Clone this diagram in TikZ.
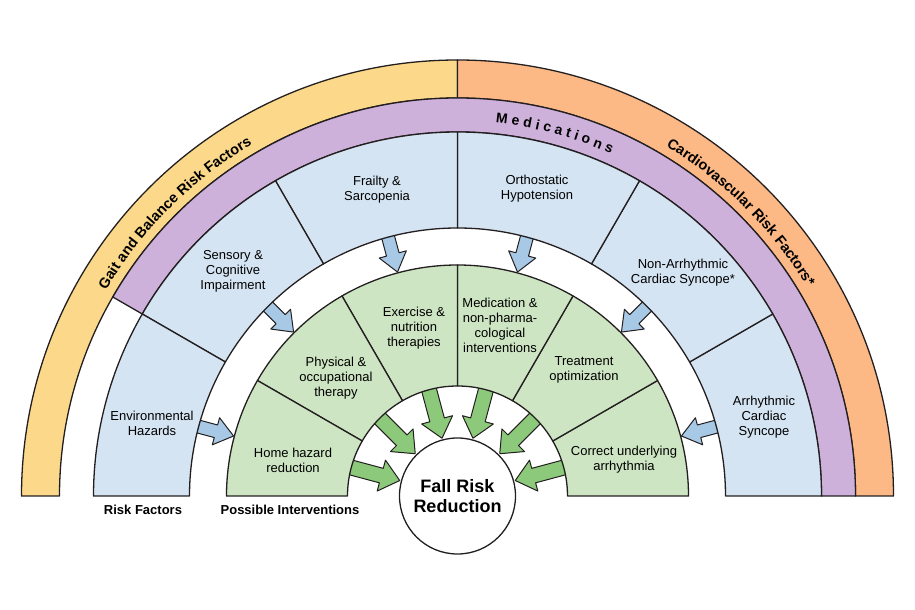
\documentclass[tikz,border=0pt]{standalone}
\usepackage{fontspec}
\setmainfont{Liberation Sans}
\usetikzlibrary{shapes.arrows, decorations.text}

\definecolor{gaityellow}{HTML}{FBD88A}
\definecolor{cardioorange}{HTML}{FCB985}
\definecolor{medpurple}{HTML}{CEB1DB}
\definecolor{riskblue}{HTML}{D5E4F2}
\definecolor{intgreen}{HTML}{CDE5C2}
\definecolor{arrowblue}{HTML}{A8C9E6}
\definecolor{arrowgreen}{HTML}{8CC97B}
\definecolor{inkline}{HTML}{231F20}

\newcommand{\celltext}{\fontsize{13}{15}\selectfont}
\newcommand{\ringtext}{\fontsize{13}{15}\selectfont\bfseries}
\newcommand{\bandtext}{\fontsize{14.5}{16}\selectfont\bfseries}
\newcommand{\medtext}{\fontsize{14}{16}\selectfont\bfseries}
% ring sector: style, start angle, end angle, inner radius, outer radius
\newcommand{\ringsector}[5]{%
	\draw[#1] (#2:#4) -- (#2:#5) arc[start angle=#2, end angle=#3, radius=#5]
	-- (#3:#4) arc[start angle=#3, end angle=#2, radius=#4] -- cycle;}

\begin{document}
\begin{tikzpicture}[x=1pt, y=1pt, line cap=round, line join=round, line width=1.3pt, font=\celltext,
	bluearrow/.style={shape=single arrow, draw=inkline, fill=arrowblue, line width=1pt,
		inner xsep=0pt, inner ysep=6pt, minimum height=44pt,
		single arrow head extend=7.5pt, single arrow tip angle=75, anchor=tip},
	greenarrow/.style={shape=single arrow, draw=inkline, fill=arrowgreen, line width=1pt,
		inner xsep=0pt, inner ysep=7pt, minimum height=57pt,
		single arrow head extend=8.5pt, single arrow tip angle=80, anchor=tip}]
	
	\useasboundingbox (-457.5,-114) rectangle (457.5,496);
	
	%========================
	% block arrows (tails and tips go under the cells)
	%========================
	\foreach \a [count=\i] in {15,45,...,165}
	\node[bluearrow, rotate=\a+180] (rf\i) at (\a:231) {};
	\foreach \a [count=\i] in {15,45,...,165}
	\node[greenarrow, rotate=\a+180] (pi\i) at (\a:59) {};
	
	%========================
	% outer rings
	%========================
	\ringsector{fill=gaityellow, draw=inkline}{90}{180}{398}{436}
	\ringsector{fill=cardioorange, draw=inkline}{0}{90}{398}{436}
	\ringsector{fill=medpurple, draw=inkline}{0}{150}{364}{398}
	
	% risk factor cells
	\foreach \a in {0,30,...,150}{
		\ringsector{fill=riskblue, draw=inkline}{\a}{\a+30}{268}{364}
	}
	
	% intervention cells
	\foreach \a in {0,30,...,150}{
		\ringsector{fill=intgreen, draw=inkline}{\a}{\a+30}{110}{231}
	}
	
	%========================
	% ring titles
	%========================
	\path[decorate, decoration={text along path, text align=center,
		text={|\bandtext|Gait and Balance Risk Factors}}]
	(180:407) arc[start angle=180, end angle=90, radius=407];
	\path[decorate, decoration={text along path, text align=center,
		text={|\medtext|M e d i c a t i o n s}}]
	(105:375) arc[start angle=105, end angle=45, radius=375];
	\path[decorate, decoration={text along path, text align=center,
		text={|\bandtext|Cardiovascular Risk Factors*}}]
	(90:407) arc[start angle=90, end angle=0, radius=407];
	
	%========================
	% cell texts
	%========================
	\node[align=center] (envhaz) at (-305.5,73) {Environmental\\Hazards};
	\node[align=center] (sensory) at (-224.5,225) {Sensory \&\\Cognitive\\Impairment};
	\node[align=center] (frailty) at (-80.5,306) {Frailty \&\\Sarcopenia};
	\node[align=center] (ortho) at (79.5,307) {Orthostatic\\Hypotension};
	\node[align=center] (nonarr) at (225.5,223) {Non-Arrhythmic\\Cardiac Syncope*};
	\node[align=center] (arrhy) at (306.5,79) {Arrhythmic\\Cardiac\\Syncope};
	
	\node[align=center] (homehaz) at (-164.5,36) {Home hazard\\reduction};
	\node[align=center] (physther) at (-121.5,118) {Physical \&\\occupational\\therapy};
	\node[align=center] (exercise) at (-43.5,168) {Exercise \&\\nutrition\\therapies};
	\node[align=center] (medint) at (42.5,171) {Medication \&\\non-pharma-\\cological\\interventions};
	\node[align=center] (treatopt) at (126.5,126) {Treatment\\optimization};
	\node[align=center] (correct) at (166.5,36) {Correct underlying\\arrhythmia};
	
	% centre
	\node[circle, draw=inkline, fill=white, minimum size=116pt, inner sep=0pt, align=center,
	font=\bfseries\fontsize{18}{20}\selectfont] (fallrisk) at (0,0) {Fall Risk\\Reduction};
	
	% legends under the rings
	\node[font=\ringtext] (rflabel) at (-314.5,-14) {Risk Factors};
	\node[font=\ringtext] (pilabel) at (-167.5,-14) {Possible Interventions};
	
\end{tikzpicture}
\end{document}
